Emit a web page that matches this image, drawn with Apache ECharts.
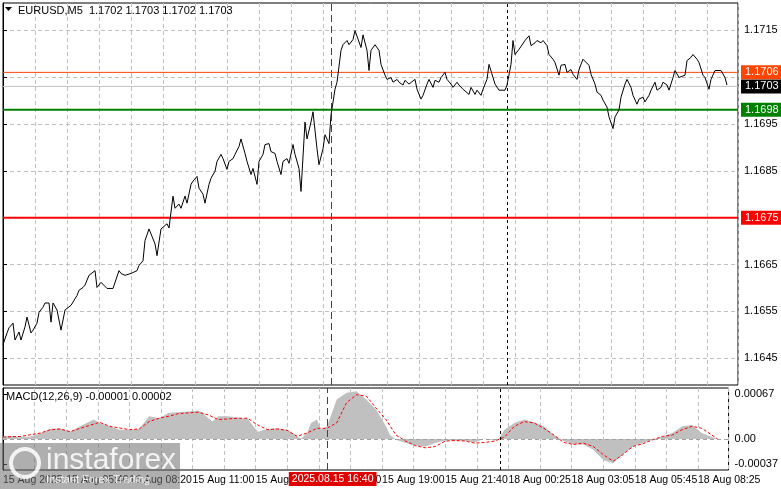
<!DOCTYPE html>
<html><head><meta charset="utf-8">
<script src="https://cdn.jsdelivr.net/npm/echarts@6/dist/echarts.min.js"></script>
<style>html,body{margin:0;background:#fff}#c{width:781px;height:489px}</style>
</head><body><div id="c"></div>
<script>
// ===== Data (bar index = 5-minute bars since 15 Aug 03:00) =====
const barIdx = [0,2,3,5,6,8,9,11,12,14,15,17,18,20,21,23,24,25,27,29,31,32,34,35,37,38,40,41,43,44,46,47,49,50,52,53,55,56,58,59,61,62,64,65,67,68,70,71,73,74,76,77,79,80,82,83,85,86,88,89,91,92,
  94,95,97,98,100,101,103,104,106,107,109,110,112,113,115,116,118,119,121,122,124,125,127,128,130,131,133,134,136,137,139,140,142,143,145,146,148,149,151,152,154,155,157,158,160,161,163,164,166,167,
  169,170,172,173,175,176,177,179,180,182,183,184,186,188,189,
  191,192,194,195,197,198,200,201,203,204,206,207,209,210,212,213,215,216,218,219,221,222,224,225,227,228,230,231,233,234,236,237,239,240,242,243,245,246,248,249,251,252,254,255,256,258,259,
  261,263,264,266,267,269,270,272,273,275,276,278,279,281,282,284,285,287,288,290,291,293,294,296,297,299,300,302,303,305,306,308,309,311,312,314,315,317,318,320,321,323,324,326,327,329,330,332,333,335,336,338,339,341,342,344,345,347,348,350,351,353,354,356,357,359,361,362];
const closes = [1.16479,1.16504,1.16515,1.16525,1.16489,1.16506,1.16489,1.16517,1.16538,1.16504,1.16510,1.16525,1.16548,1.16559,1.16568,1.16568,1.16527,1.16568,1.16553,1.16510,1.16553,1.16557,1.16563,1.16570,1.16584,1.16595,1.16601,1.16606,1.16627,1.16631,1.16637,1.16601,1.16612,1.16616,1.16599,1.16595,1.16599,1.16599,1.16637,1.16631,1.16627,1.16631,1.16631,1.16631,1.16637,1.16648,1.16658,1.16701,1.16726,1.16726,1.16694,1.16669,1.16726,1.16728,1.16737,1.16728,1.16796,1.16770,1.16779,1.16770,1.16796,1.16781,
  1.16821,1.16828,1.16838,1.16813,1.16800,1.16781,1.16821,1.16834,1.16849,1.16870,1.16885,1.16876,1.16853,1.16870,1.16876,1.16885,1.16902,1.16918,1.16887,1.16870,1.16842,1.16855,1.16821,1.16870,1.16885,1.16906,1.16908,1.16891,1.16887,1.16870,1.16842,1.16870,1.16876,1.16866,1.16906,1.16885,1.16855,1.16806,1.16954,1.16918,1.16954,1.16976,1.16897,1.16863,1.16897,1.16927,1.16908,1.16969,1.17024,1.17039,
  1.17107,1.17119,1.17128,1.17119,1.17130,1.17149,1.17149,1.17113,1.17140,1.17107,1.17064,1.17107,1.17119,1.17107,1.17077,
  1.17054,1.17045,1.17049,1.17039,1.17045,1.17039,1.17033,1.17043,1.17035,1.17033,1.17045,1.17024,1.17003,1.17011,1.17035,1.17045,1.17028,1.17043,1.17039,1.17049,1.17060,1.17045,1.17035,1.17028,1.17039,1.17033,1.17024,1.17028,1.17013,1.17028,1.17013,1.17022,1.17011,1.17024,1.17045,1.17077,1.17049,1.17035,1.17022,1.17022,1.17022,1.17033,1.17077,1.17128,1.17098,1.17109,1.17113,
  1.17128,1.17138,1.17117,1.17123,1.17128,1.17123,1.17128,1.17117,1.17098,1.17088,1.17081,1.17054,1.17075,1.17077,1.17060,1.17066,1.17056,1.17045,1.17066,1.17088,1.17088,1.17075,1.17056,1.17035,1.17018,1.17011,1.17001,1.16986,1.16965,1.16940,1.16965,1.16980,1.17007,1.17035,1.17045,1.17028,1.17011,1.16992,1.17003,1.17007,1.16997,1.17011,1.17022,1.17039,1.17022,1.17028,1.17039,1.17033,1.17022,1.17049,1.17064,1.17049,1.17049,1.17054,1.17085,1.17092,1.17098,1.17088,1.17081,1.17054,1.17049,1.17024,1.17045,1.17064,1.17066,1.17064,1.17049,1.17033];

// MACD values in units of 0.00001
const histIdx = [0,4,9,14,19,24,29,34,39,44,46,49,54,59,64,69,74,79,84,89,94,99,101,106,109,114,119,124,129,134,139,144,149,151,154,156,159,161,164,166,169,174,179,184,189,191,194,196,199,204,209,214,219,224,229,234,239,244,249,251,254,259,264,269,274,279,284,289,294,299,304,309,314,319,324,329,334,339,344,349,354,359,362];
const histVals = [4,5,3,4,9,15,16,11,19,26,29,24,19,14,14,15,34,31,39,40,41,42,39,26,34,34,32,30,11,15,16,14,4,1,9,24,29,14,19,34,59,69,71,59,44,34,19,6,-1,-6,-10,-11,-6,-2,-2,-3,-5,1,-2,0,14,24,29,25,19,6,-3,-8,-8,-16,-31,-36,-23,-11,-6,-1,4,9,19,21,9,3,0];
const sigIdx = [0,9,19,24,29,34,39,49,54,64,69,74,79,84,89,94,99,104,109,114,119,124,129,134,139,144,149,154,159,164,169,174,179,184,189,194,199,204,209,214,219,224,229,234,239,244,249,254,259,264,269,274,279,284,289,294,299,304,309,314,319,324,329,334,339,344,349,354,359,362];
const sigVals = [3,4,9,14,15,11,16,25,19,14,15,26,31,34,38,39,40,36,29,30,31,31,21,14,15,13,4,9,16,16,24,54,66,64,46,29,6,-3,-10,-13,-11,-3,-2,-3,-6,-5,-3,3,19,26,24,16,6,-5,-8,-6,-11,-23,-33,-23,-11,-7,-1,4,6,14,19,16,6,0];

const timeLabels = {0:'15 Aug 2025',32:'15 Aug 05:40',64:'15 Aug 08:20',96:'15 Aug 11:00',128:'15 Aug 13:40',160:'15 Aug 16:20',192:'15 Aug 19:00',224:'15 Aug 21:40',256:'18 Aug 00:25',288:'18 Aug 03:05',320:'18 Aug 05:45',352:'18 Aug 08:25'};
const priceGrid = [1.1645,1.1655,1.1665,1.1675,1.1685,1.1695,1.1705,1.1715];
const priceLabels = [1.1645,1.1655,1.1665,1.1685,1.1695,1.1715];
const levels = [
  {v:1.1675, color:'#ff0000', w:2},
  {v:1.1698, color:'#008000', w:2},
  {v:1.1703, color:'#c0c0c0', w:1, bg:'#000'},
  {v:1.1706, color:'#ff4500', w:1}
];
const cursorIdx = 164, daySepIdx = 252;
const X_MAX = 367.5;

const FONT = 'Liberation Sans';
const zip = (a,b) => a.map((x,i)=>[x,b[i]]);
const gridLine = {show:true, lineStyle:{color:'#c0c0c0', type:[4,3]}};
const vLines = [
  {xAxis:cursorIdx, lineStyle:{color:'#e00000', width:1, type:[7,4]}, label:{show:false}},
  {xAxis:daySepIdx, lineStyle:{color:'#000', width:1, type:[3,3]}, label:{show:false}}
];

const levelSeries = levels.map((l,i) => ({
  type:'line', xAxisIndex:0, yAxisIndex:0, data:[[0,l.v],[X_MAX,l.v]], showSymbol:false, silent:true,
  lineStyle:{color:l.color, width:l.w}, z:3+i,
  endLabel:{show:true, formatter:l.v.toFixed(4), color:'#fff', backgroundColor:l.bg || l.color,
    padding:[2,4,1,4], fontSize:11, fontFamily:FONT, distance:3}
}));

const chart = echarts.init(document.getElementById('c'), null, {renderer:'canvas'});
chart.setOption({
  animation:false,
  textStyle:{fontFamily:FONT},
  grid:[
    {left:3, right:43, top:3, height:382, show:true, borderColor:'#000', borderWidth:1},
    {left:3, right:43, top:388, height:82, show:true, borderColor:'#000', borderWidth:1}
  ],
  xAxis:[
    {gridIndex:0, type:'value', min:0, max:X_MAX, interval:16, axisLabel:{show:false}, axisTick:{show:false}, axisLine:{show:false}, splitLine:gridLine},
    {gridIndex:1, type:'value', min:0, max:X_MAX, interval:16, axisLine:{show:false},
      axisTick:{show:false}, splitLine:gridLine,
      axisLabel:{fontSize:10.5, color:'#000', align:'left', margin:5, showMaxLabel:false,
        formatter:v => timeLabels[v] || ''}}
  ],
  yAxis:[
    {gridIndex:0, type:'value', position:'right', min:1.16393, max:1.17208,
      axisLine:{show:true, lineStyle:{color:'#000'}},
      axisTick:{show:true, customValues:priceGrid, length:4, lineStyle:{color:'#000'}},
      axisLabel:{customValues:priceLabels, fontSize:11, color:'#000', margin:6, formatter:v=>v.toFixed(4)},
      splitLine:gridLine},
    {gridIndex:1, type:'value', position:'right', min:-46, max:76,
      axisLine:{show:true, lineStyle:{color:'#000'}},
      axisTick:{show:true, customValues:[67,0,-37], length:4, lineStyle:{color:'#000'}},
      axisLabel:{customValues:[67,0,-37], fontSize:11, color:'#000', margin:6,
        formatter:v => v===0 ? '0.00' : (v/100000).toFixed(5)},
      splitLine:{show:false}}
  ],
  series:[
    ...levelSeries,
    {type:'line', xAxisIndex:0, yAxisIndex:0, data:zip(barIdx, closes), showSymbol:false,
      lineStyle:{color:'#000', width:1}, z:8,
      markLine:{symbol:'none', silent:true, animation:false, data:vLines}},
    {type:'line', xAxisIndex:1, yAxisIndex:1, data:zip(histIdx, histVals), showSymbol:false,
      lineStyle:{width:0}, areaStyle:{color:'#c0c0c0', opacity:1}, z:2,
      markLine:{symbol:'none', silent:true, animation:false, data:[
        {yAxis:0, lineStyle:{color:'#a0a0a0', type:[4,3], width:1}, label:{show:false}}, ...vLines]}},
    {type:'line', xAxisIndex:1, yAxisIndex:1, data:zip(sigIdx, sigVals), showSymbol:false,
      lineStyle:{color:'#ff0000', width:1, type:[3,2]}, z:4}
  ]
});

// ===== Overlays: titles, cursor time badge, watermark =====
const cx = chart.convertToPixel({xAxisIndex:1}, cursorIdx);
chart.setOption({graphic:[
  {type:'polygon', shape:{points:[[5,7],[12,7],[8.5,11]]}, style:{fill:'#000'}},
  {type:'text', left:18, top:5, style:{text:'EURUSD,M5  1.1702 1.1703 1.1702 1.1703', font:'11px '+FONT, fill:'#000'}},
  {type:'text', left:6, top:391, style:{text:'MACD(12,26,9) -0.00001 0.00002', font:'11px '+FONT, fill:'#000'}},
  {type:'text', x:cx-38, y:472, z:51, style:{text:'2025.08.15 16:40', font:'10.5px '+FONT, fill:'#fff',
    backgroundColor:'#e00000', padding:[2,3,1,3]}},
  {type:'rect', shape:{x:0, y:443, width:180, height:46}, style:{fill:'rgba(110,110,110,0.55)'}, z:40},
  {type:'text', x:46, y:446, style:{text:'instaforex', font:'30px '+FONT, fill:'rgba(255,255,255,0.85)'}, z:41},
  {type:'text', x:46, y:474, style:{text:'Instant Forex Trading', font:'11px '+FONT, fill:'rgba(255,255,255,0.85)'}, z:41},
  {type:'circle', shape:{cx:25, cy:463, r:14}, style:{fill:'none', stroke:'rgba(255,255,255,0.85)', lineWidth:4}, z:41}
]});
</script>
</body></html>
